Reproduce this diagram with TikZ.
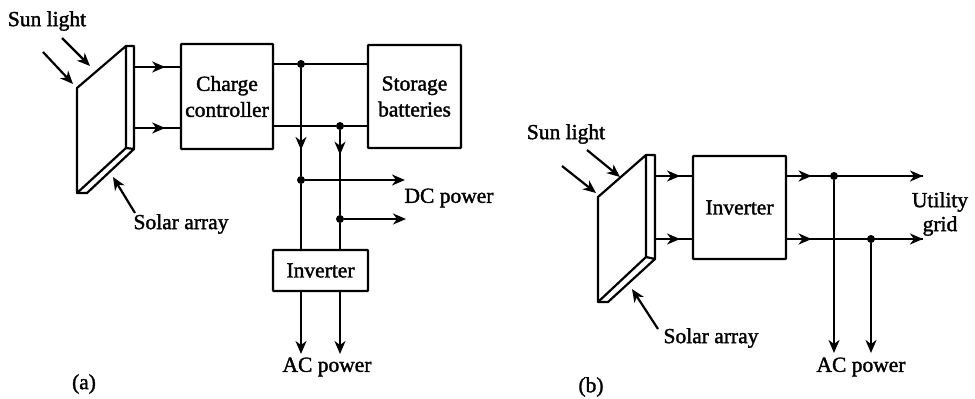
\documentclass[tikz,border=0pt]{standalone}
\usepackage{fontspec}
\setmainfont{Liberation Serif}
\newfontfamily\lblfont[FakeBold=1.6]{Liberation Serif}
\usetikzlibrary{arrows.meta,decorations.markings}
\tikzset{
  x=1pt,y=-1pt,
  tip/.tip={Stealth[length=13pt,width=11pt,inset=4pt]},
  wire/.style={line width=2.2pt,black},
  flow/.style={wire,-{tip}},
  midflow/.style={wire,postaction={decorate},decoration={markings,mark=at position #1 with {\arrow{tip}}}},
  block/.style={draw,line width=2.3pt,rounded corners=0.8pt,inner sep=0pt,align=center,font=\lblfont\fontsize{21.5}{26}\selectfont},
  lbl/.style={inner sep=0pt,align=center,font=\lblfont\fontsize{21.5}{26}\selectfont},
  panel/.style={draw,line width=2.2pt,line join=round},
  joint/.style={circle,fill=black,inner sep=0pt,minimum size=8pt},
}
\begin{document}
\begin{tikzpicture}
\useasboundingbox (0,0) rectangle (975,399);
% ---------- (a)
\node[block,minimum width=92pt,minimum height=105pt] (cc) at (227,96.5) {Charge\\controller};
\node[block,minimum width=93pt,minimum height=103pt] (sb) at (414.5,96.5) {Storage\\batteries};
\node[block,minimum width=95pt,minimum height=41pt] (inva) at (320.5,270.5) {Inverter};
\draw[panel] (77,88) -- (126,46) -- (126,148) -- (77,193) -- cycle;
\draw[panel] (126,46) -- (134,46) -- (134,149) -- (126,148);
\draw[panel] (77,193) -- (87,193) -- (134,149);
\coordinate (pa1) at (134,67);
\coordinate (pa2) at (134,128);
\draw[midflow=0.68] (pa1) -- (cc.west |- pa1);
\draw[midflow=0.68] (pa2) -- (cc.west |- pa2);
\node[joint] (j1) at (301,64) {};
\node[joint] (j2) at (340,126) {};
\node[joint] (j3) at (301,180) {};
\node[joint] (j4) at (340,219) {};
\draw[wire] (cc.east |- j1) -- (j1) -- (sb.west |- j1);
\draw[wire] (cc.east |- j2) -- (j2) -- (sb.west |- j2);
\draw[midflow=0.76] (j1) -- (j3);
\draw[midflow=0.29] (j2) -- (j4);
\draw[wire] (j3) -- (j3 |- inva.north);
\draw[wire] (j4) -- (j4 |- inva.north);
\coordinate (dc1) at (405,180);
\coordinate (dc2) at (406,219);
\draw[flow] (j3) -- (dc1);
\draw[flow] (j4) -- (dc2);
\coordinate (ac1) at (301,354);
\coordinate (ac2) at (340,354);
\draw[flow] (j3 |- inva.south) -- (ac1);
\draw[flow] (j4 |- inva.south) -- (ac2);
\node[lbl] (sun1) at (47,21) {Sun light};
\node[lbl] (sol1) at (181,224) {Solar array};
\node[lbl] (dcp) at (449,198) {DC power};
\node[lbl] (acp1) at (327,367) {AC power};
\node[lbl] (capa) at (84,384) {(a)};
\coordinate (s1a) at (43,52); \coordinate (s1b) at (73,84);
\coordinate (s2a) at (62,38); \coordinate (s2b) at (90,66);
\coordinate (s3a) at (135,213); \coordinate (s3b) at (113,177);
\draw[flow] (s1a) -- (s1b);
\draw[flow] (s2a) -- (s2b);
\draw[flow] (s3a) -- (s3b);
% ---------- (b)
\node[block,minimum width=93pt,minimum height=103pt] (invb) at (739.5,207.5) {Inverter};
\draw[panel] (598,197) -- (646,155) -- (646,257) -- (598,302) -- cycle;
\draw[panel] (646,155) -- (655,155) -- (655,259) -- (646,257);
\draw[panel] (598,302) -- (608,302) -- (655,259);
\coordinate (pb1) at (655,176);
\coordinate (pb2) at (655,239);
\draw[midflow=0.68] (pb1) -- (invb.west |- pb1);
\draw[midflow=0.68] (pb2) -- (invb.west |- pb2);
\node[joint] (k1) at (834,176) {};
\node[joint] (k2) at (871,239) {};
\coordinate (g1) at (923,176);
\coordinate (g2) at (923,239);
\draw[midflow=0.18] (invb.east |- g1) -- (g1);
\draw[flow] (invb.east |- g1) -- (g1);
\draw[midflow=0.18] (invb.east |- g2) -- (g2);
\draw[flow] (invb.east |- g2) -- (g2);
\coordinate (ac3) at (834,353);
\coordinate (ac4) at (871,353);
\draw[flow] (k1) -- (ac3);
\draw[flow] (k2) -- (ac4);
\node[lbl] (sun2) at (566,134) {Sun light};
\node[lbl] (sol2) at (711,338) {Solar array};
\node[lbl,font=\lblfont\fontsize{21.5}{24}\selectfont] (util) at (940,214) {Utility\\grid};
\node[lbl] (acp2) at (861,367) {AC power};
\node[lbl] (capb) at (591,387) {(b)};
\coordinate (t1a) at (562,166); \coordinate (t1b) at (596,193);
\coordinate (t2a) at (587,150); \coordinate (t2b) at (620,177);
\coordinate (t3a) at (658,329); \coordinate (t3b) at (632,289);
\draw[flow] (t1a) -- (t1b);
\draw[flow] (t2a) -- (t2b);
\draw[flow] (t3a) -- (t3b);
\end{tikzpicture}
\end{document}
